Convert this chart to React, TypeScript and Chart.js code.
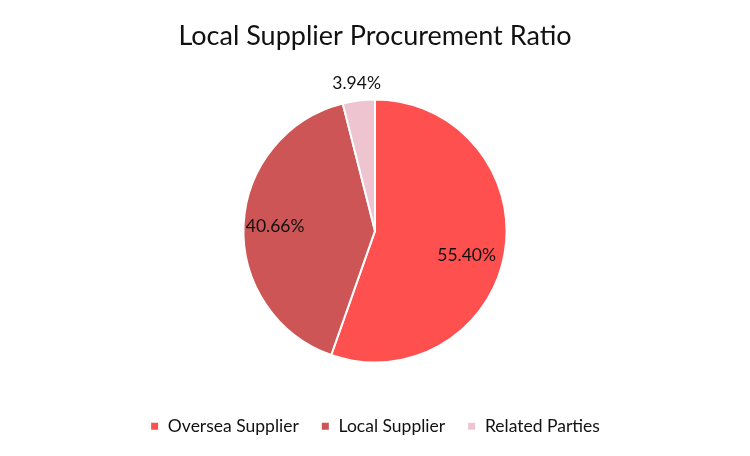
import React, { useEffect, useRef } from "react";
import { Chart, registerables } from "chart.js";

Chart.register(...registerables);

const categories = ["Oversea Supplier", "Local Supplier", "Related Parties"];
const shares = [55.4, 40.66, 3.94];
const labelsText = ["55.40%", "40.66%", "3.94%"];
const colors = ["#FF5050", "#CD5555", "#EEC4D0"];

// label placement (style only)
const labelRadius = [0.72, 0.76, 1.13];
const labelAngleShiftDeg = [5, 0, 0];

const FONT = "Lato, 'Open Sans', sans-serif";

const labelPlugin = {
  id: "sliceLabels",
  afterDatasetsDraw(chart: any) {
    const ctx = chart.ctx;
    const meta = chart.getDatasetMeta(0);
    ctx.save();
    ctx.font = `17.5px ${FONT}`;
    ctx.fillStyle = "#111";
    ctx.textAlign = "center";
    ctx.textBaseline = "middle";
    meta.data.forEach((arc: any, i: number) => {
      const { x, y, startAngle, endAngle, outerRadius } = arc.getProps(
        ["x", "y", "startAngle", "endAngle", "outerRadius"],
        true
      );
      const mid = (startAngle + endAngle) / 2 + (labelAngleShiftDeg[i] * Math.PI) / 180;
      const r = outerRadius * labelRadius[i];
      ctx.fillText(labelsText[i], x + Math.cos(mid) * r, y + Math.sin(mid) * r);
    });
    ctx.restore();
  },
};

export default function App() {
  const ref = useRef<HTMLCanvasElement>(null);
  useEffect(() => {
    document.body.style.margin = "0";
    const chart = new Chart(ref.current!, {
      type: "pie",
      data: {
        labels: categories,
        datasets: [
          {
            data: shares,
            backgroundColor: colors,
            borderColor: "#fff",
            borderWidth: 2,
          },
        ],
      },
      options: {
        animation: false,
        responsive: false,
        maintainAspectRatio: false,
        layout: { padding: { top: 0, bottom: 11, left: 0, right: 0 } },
        plugins: {
          title: {
            display: true,
            text: "Local Supplier Procurement Ratio",
            color: "#111",
            font: { family: FONT, size: 27, weight: "normal" },
            padding: { top: 20, bottom: 46 },
          },
          legend: {
            position: "bottom",
            title: {
              display: true,
              text: "",
              font: { size: 10 },
              padding: { top: 20, bottom: 0 },
            },
            labels: {
              color: "#111",
              font: { family: FONT, size: 17.5 },
              boxWidth: 9,
              boxHeight: 9,
              padding: 22,
            },
          },
          tooltip: { enabled: false },
        },
      },
      plugins: [labelPlugin],
    });
    return () => chart.destroy();
  }, []);
  return (
    <div style={{ width: 750, height: 456, background: "#fff" }}>
      <canvas ref={ref} width={750} height={456} style={{ width: 750, height: 456 }} />
    </div>
  );
}
